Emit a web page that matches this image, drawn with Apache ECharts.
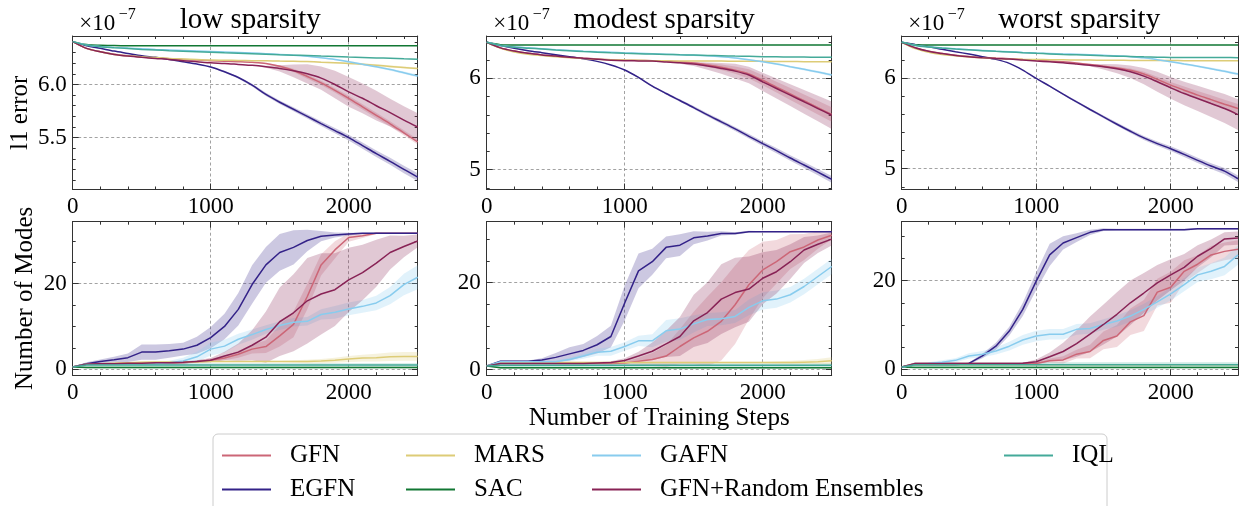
<!DOCTYPE html>
<html><head><meta charset="utf-8">
<script src="https://cdn.jsdelivr.net/npm/echarts@6/dist/echarts.min.js"></script>
<style>html,body{margin:0;padding:0;background:#fff}#c{width:1241px;height:506px}</style>
</head><body><div id="c"></div>
<script>
// ---------------- DATA ----------------
const steps = [0,100,200,300,400,500,600,700,800,900,1000,1100,1200,1300,1400,1500,1600,1700,1800,1900,2000,2100,2200,2300,2400,2500];
const methods = ['GFN','EGFN','MARS','SAC','GAFN','GFN+Random Ensembles','IQL'];
const panelTitles = ['low sparsity','modest sparsity','worst sparsity'];
const xTickLabels = [0,1000,2000];

// l1 error (x1e-7), low sparsity
const low_l1_GFN   = [6.403,6.340,6.308,6.285,6.270,6.260,6.250,6.242,6.236,6.230,6.224,6.219,6.214,6.208,6.198,6.172,6.132,6.075,6.015,5.945,5.870,5.790,5.710,5.630,5.545,5.460];
const low_l1_GFN_sd= [0,0,0,0,0,0,0,0,0,0,0,0,0,0,0.005,0.01,0.015,0.02,0.02,0.02,0.025,0.025,0.025,0.025,0.025,0.025];
const low_l1_EGFN  = [6.403,6.365,6.340,6.314,6.292,6.270,6.255,6.236,6.214,6.192,6.165,6.120,6.066,5.994,5.906,5.833,5.767,5.700,5.632,5.566,5.500,5.425,5.349,5.277,5.201,5.129];
const low_l1_EGFN_sd=[0,0,0,0,0,0,0,0,0,0,0.005,0.008,0.01,0.012,0.015,0.017,0.019,0.021,0.023,0.025,0.027,0.029,0.031,0.033,0.035,0.037];
const low_l1_MARS  = [6.403,6.340,6.308,6.283,6.270,6.261,6.253,6.245,6.240,6.235,6.230,6.228,6.226,6.224,6.222,6.220,6.218,6.215,6.210,6.205,6.198,6.190,6.180,6.170,6.160,6.150];
const low_l1_MARS_sd=[0,0,0,0,0,0,0,0,0,0,0,0,0,0,0,0.003,0.004,0.005,0.006,0.007,0.008,0.009,0.01,0.01,0.01,0.01];
const low_l1_SAC   = [6.403,6.375,6.368,6.366,6.365,6.365,6.365,6.365,6.365,6.365,6.365,6.365,6.365,6.365,6.365,6.365,6.365,6.365,6.365,6.365,6.365,6.365,6.365,6.365,6.365,6.365];
const low_l1_GAFN  = [6.403,6.372,6.358,6.349,6.342,6.336,6.330,6.325,6.320,6.315,6.310,6.305,6.300,6.295,6.290,6.283,6.275,6.265,6.252,6.236,6.214,6.190,6.167,6.140,6.110,6.080];
const low_l1_GAFN_sd=[0,0,0,0,0,0,0,0,0,0,0,0,0,0,0,0.003,0.004,0.005,0.006,0.007,0.008,0.009,0.01,0.011,0.012,0.013];
const low_l1_GFNRE = [6.403,6.340,6.308,6.283,6.267,6.255,6.245,6.236,6.223,6.214,6.204,6.198,6.189,6.180,6.167,6.151,6.129,6.100,6.060,6.000,5.930,5.870,5.800,5.735,5.665,5.600];
const low_l1_GFNRE_sd=[0,0,0,0,0,0,0,0,0,0,0,0,0,0,0.01,0.03,0.06,0.09,0.11,0.13,0.14,0.14,0.14,0.13,0.13,0.13];
const low_l1_IQL   = [6.403,6.371,6.355,6.346,6.338,6.330,6.324,6.318,6.313,6.308,6.303,6.298,6.294,6.290,6.285,6.280,6.276,6.272,6.267,6.263,6.258,6.254,6.250,6.246,6.241,6.237];

// l1 error, modest sparsity
const mod_l1_GFN   = [6.396,6.335,6.300,6.275,6.258,6.245,6.232,6.222,6.213,6.205,6.200,6.197,6.195,6.190,6.182,6.168,6.148,6.122,6.090,6.050,5.980,5.905,5.830,5.755,5.680,5.605];
const mod_l1_GFN_sd= [0,0,0,0,0,0,0,0,0,0,0,0,0,0,0.005,0.01,0.02,0.03,0.04,0.05,0.055,0.06,0.065,0.07,0.075,0.08];
const mod_l1_EGFN  = [6.396,6.360,6.330,6.304,6.282,6.260,6.238,6.216,6.187,6.147,6.092,6.011,5.916,5.835,5.758,5.681,5.600,5.524,5.447,5.366,5.286,5.209,5.128,5.051,4.974,4.894];
const mod_l1_EGFN_sd=[0,0,0,0,0,0,0,0,0,0,0.006,0.008,0.01,0.012,0.014,0.016,0.018,0.02,0.022,0.024,0.026,0.028,0.03,0.032,0.034,0.036];
const mod_l1_MARS  = [6.396,6.330,6.290,6.264,6.250,6.238,6.228,6.218,6.210,6.205,6.201,6.198,6.195,6.193,6.191,6.190,6.190,6.190,6.189,6.188,6.187,6.186,6.185,6.184,6.183,6.183];
const mod_l1_MARS_sd=[0,0,0,0,0,0,0,0,0,0,0.003,0.003,0.003,0.003,0.003,0.003,0.003,0.003,0.003,0.003,0.003,0.003,0.003,0.003,0.003,0.003];
const mod_l1_SAC   = [6.396,6.370,6.366,6.366,6.366,6.366,6.366,6.366,6.366,6.366,6.366,6.366,6.366,6.366,6.366,6.366,6.366,6.366,6.366,6.366,6.366,6.366,6.366,6.366,6.366,6.366];
const mod_l1_GAFN  = [6.396,6.362,6.346,6.335,6.325,6.315,6.307,6.299,6.292,6.286,6.280,6.275,6.270,6.265,6.260,6.255,6.248,6.238,6.224,6.205,6.183,6.158,6.128,6.100,6.070,6.037];
const mod_l1_GAFN_sd=[0,0,0,0,0,0,0,0,0,0,0,0,0,0,0,0.004,0.005,0.006,0.007,0.008,0.009,0.01,0.011,0.012,0.013,0.014];
const mod_l1_GFNRE = [6.396,6.335,6.300,6.275,6.258,6.245,6.232,6.220,6.210,6.200,6.194,6.192,6.190,6.181,6.172,6.157,6.135,6.110,6.080,6.037,5.963,5.890,5.817,5.744,5.670,5.597];
const mod_l1_GFNRE_sd=[0,0,0,0,0,0,0,0,0,0,0,0,0,0,0.01,0.02,0.04,0.06,0.08,0.09,0.10,0.11,0.12,0.13,0.14,0.15];
const mod_l1_IQL   = [6.396,6.360,6.343,6.332,6.322,6.311,6.303,6.295,6.288,6.281,6.275,6.271,6.267,6.263,6.259,6.256,6.252,6.249,6.245,6.242,6.238,6.237,6.235,6.234,6.232,6.231];

// l1 error, worst sparsity
const worst_l1_GFN   = [6.400,6.340,6.300,6.277,6.258,6.244,6.234,6.226,6.219,6.211,6.203,6.194,6.185,6.172,6.155,6.135,6.115,6.090,6.050,5.990,5.926,5.870,5.815,5.765,5.715,5.667];
const worst_l1_GFN_sd= [0,0,0,0,0,0,0,0,0,0,0,0,0,0,0.005,0.01,0.015,0.02,0.025,0.03,0.035,0.04,0.045,0.05,0.05,0.05];
const worst_l1_EGFN  = [6.400,6.375,6.352,6.323,6.296,6.270,6.241,6.211,6.167,6.093,6.000,5.915,5.826,5.740,5.656,5.574,5.493,5.415,5.341,5.278,5.222,5.159,5.093,5.030,4.974,4.889];
const worst_l1_EGFN_sd=[0,0,0,0,0,0,0,0,0,0,0.006,0.008,0.01,0.012,0.014,0.016,0.018,0.02,0.022,0.024,0.026,0.028,0.03,0.032,0.034,0.036];
const worst_l1_MARS  = [6.400,6.330,6.290,6.265,6.250,6.237,6.228,6.220,6.215,6.212,6.210,6.208,6.206,6.204,6.203,6.202,6.201,6.200,6.199,6.198,6.198,6.197,6.197,6.196,6.196,6.196];
const worst_l1_MARS_sd=[0,0,0,0,0,0,0,0,0,0,0.003,0.003,0.003,0.003,0.003,0.003,0.003,0.003,0.003,0.003,0.003,0.003,0.003,0.003,0.003,0.003];
const worst_l1_SAC   = [6.400,6.372,6.370,6.370,6.370,6.370,6.370,6.370,6.370,6.370,6.370,6.370,6.370,6.370,6.370,6.370,6.370,6.370,6.370,6.370,6.370,6.370,6.370,6.370,6.370,6.370];
const worst_l1_GAFN  = [6.400,6.367,6.350,6.338,6.328,6.319,6.310,6.302,6.295,6.288,6.282,6.277,6.272,6.267,6.262,6.256,6.250,6.240,6.228,6.208,6.185,6.160,6.135,6.108,6.080,6.048];
const worst_l1_GAFN_sd=[0,0,0,0,0,0,0,0,0,0,0,0,0,0,0,0.004,0.005,0.006,0.007,0.008,0.009,0.01,0.011,0.012,0.013,0.014];
const worst_l1_GFNRE = [6.400,6.340,6.300,6.275,6.255,6.240,6.230,6.222,6.215,6.204,6.193,6.184,6.174,6.160,6.145,6.130,6.107,6.074,6.026,5.963,5.896,5.833,5.778,5.722,5.667,5.600];
const worst_l1_GFNRE_sd=[0,0,0,0,0,0,0,0,0,0,0,0,0,0,0.01,0.03,0.05,0.07,0.09,0.11,0.12,0.13,0.14,0.15,0.16,0.17];
const worst_l1_IQL   = [6.400,6.365,6.348,6.336,6.326,6.317,6.308,6.300,6.293,6.285,6.278,6.272,6.266,6.261,6.256,6.251,6.247,6.243,6.239,6.236,6.233,6.232,6.232,6.231,6.231,6.230];

// Number of modes, low sparsity
const low_m_GFN    = [0.5,1.2,1.3,1.3,1.4,1.4,1.4,1.5,1.5,1.8,2.1,2.6,3.5,4.7,5.3,7.8,10.5,17.0,24.4,27.9,30.8,31.2,31.8,31.8,31.8,31.8];
const low_m_GFN_sd = [0,0.2,0.2,0.2,0.2,0.2,0.2,0.2,0.2,0.3,0.4,0.5,0.8,1.0,1.5,2.5,3.0,3.0,2.5,2.0,1.0,0.5,0.2,0,0,0];
const low_m_EGFN   = [0.5,1.3,1.8,2.2,2.7,4.0,4.0,4.3,4.7,5.6,7.4,10.0,14.0,19.8,24.4,27.3,28.5,30.1,31.1,31.4,31.6,31.8,31.8,31.8,31.8,31.8];
const low_m_EGFN_sd= [0,0.3,0.5,0.7,1.0,1.8,1.8,1.6,1.5,2.0,2.5,3.0,3.8,4.5,4.2,4.3,4.0,2.5,1.2,0.6,0.3,0.1,0.1,0.1,0.1,0.1];
const low_m_MARS   = [0.5,1.2,1.3,1.4,1.5,1.6,1.7,1.7,1.7,1.7,1.8,1.8,1.8,1.8,1.8,1.8,1.8,1.8,1.9,2.1,2.4,2.6,2.7,2.9,3.0,3.0];
const low_m_MARS_sd= [0,0.1,0.1,0.1,0.1,0.2,0.2,0.2,0.2,0.2,0.2,0.2,0.2,0.2,0.2,0.2,0.3,0.4,0.5,0.6,0.7,0.8,0.9,1.0,1.0,1.0];
const low_m_SAC    = [0.5,0.4,0.4,0.4,0.4,0.4,0.4,0.4,0.4,0.4,0.4,0.4,0.4,0.4,0.4,0.4,0.4,0.4,0.4,0.4,0.4,0.4,0.4,0.4,0.4,0.4];
const low_m_SAC_sd = [0,0.15,0.15,0.15,0.15,0.15,0.15,0.15,0.15,0.15,0.15,0.15,0.15,0.15,0.15,0.15,0.15,0.15,0.15,0.15,0.15,0.15,0.15,0.15,0.15,0.15];
const low_m_GAFN   = [0.5,1.2,1.2,1.2,1.2,1.2,1.3,1.5,1.9,2.9,4.7,5.4,7.0,8.1,9.3,10.2,11.0,11.2,12.8,13.3,14.1,14.7,15.5,17.2,19.8,21.5];
const low_m_GAFN_sd= [0,0.1,0.1,0.1,0.2,0.2,0.3,0.5,0.8,1.2,1.5,1.5,1.3,1.2,1.0,1.0,1.0,1.0,1.2,1.5,1.5,1.5,1.7,2.0,2.5,2.8];
const low_m_GFNRE  = [0.5,1.2,1.3,1.3,1.4,1.4,1.5,1.5,1.6,1.8,2.1,3.1,4.0,5.6,7.5,11.1,13.2,16.0,17.6,18.6,20.9,22.6,24.8,27.3,28.7,30.0];
const low_m_GFNRE_sd=[0,0.1,0.1,0.1,0.1,0.1,0.2,0.2,0.2,0.3,0.5,1.0,2.0,3.5,6.0,8.0,9.0,10.0,9.5,8.5,7.5,6.5,5.5,4.0,2.5,1.5];
const low_m_IQL    = [0.5,1.0,1.0,1.0,1.0,1.0,1.0,1.0,1.0,1.0,1.0,1.0,1.0,1.0,1.0,1.0,1.0,1.0,1.0,1.0,1.0,1.0,1.0,1.0,1.0,1.0];
const low_m_IQL_sd = [0,0.4,0.4,0.4,0.4,0.4,0.4,0.4,0.4,0.4,0.4,0.4,0.4,0.4,0.4,0.4,0.4,0.4,0.4,0.4,0.4,0.4,0.4,0.4,0.4,0.4];

// Number of modes, modest sparsity
const mod_m_GFN    = [0.8,1.4,1.4,1.4,1.4,1.4,1.4,1.4,1.4,1.4,1.5,1.9,2.3,3.1,5.3,7.3,8.8,11.1,14.9,19.5,22.9,24.8,27.1,28.2,29.8,30.9];
const mod_m_GFN_sd = [0,0.1,0.1,0.1,0.1,0.1,0.1,0.1,0.1,0.2,0.3,0.8,1.5,2.5,4.0,6.0,8.0,9.0,9.0,8.0,6.5,5.0,4.0,3.0,2.0,1.0];
const mod_m_EGFN   = [0.8,1.9,1.9,1.9,2.2,2.8,3.6,4.4,5.7,7.6,15.3,22.7,24.8,28.1,28.6,30.3,30.7,31.3,31.3,31.7,31.7,31.7,31.7,31.7,31.7,31.7];
const mod_m_EGFN_sd= [0,0.2,0.2,0.2,0.4,1.0,1.5,1.5,2.0,2.5,4.0,4.0,3.0,2.5,2.5,1.5,1.0,0.5,0.3,0.2,0.1,0.1,0.1,0.1,0.1,0.1];
const mod_m_MARS   = [0.8,1.6,1.6,1.6,1.6,1.6,1.6,1.6,1.6,1.6,1.6,1.6,1.6,1.6,1.6,1.6,1.6,1.6,1.6,1.6,1.6,1.6,1.6,1.7,1.8,2.0];
const mod_m_MARS_sd= [0,0.2,0.2,0.2,0.2,0.2,0.2,0.2,0.2,0.2,0.2,0.2,0.2,0.2,0.2,0.2,0.2,0.2,0.2,0.2,0.2,0.3,0.4,0.5,0.6,0.8];
const mod_m_SAC    = [0.8,0.4,0.4,0.4,0.4,0.4,0.4,0.4,0.4,0.4,0.4,0.4,0.4,0.4,0.4,0.4,0.4,0.4,0.4,0.4,0.4,0.4,0.4,0.4,0.4,0.4];
const mod_m_SAC_sd = [0,0.15,0.15,0.15,0.15,0.15,0.15,0.15,0.15,0.15,0.15,0.15,0.15,0.15,0.15,0.15,0.15,0.15,0.15,0.15,0.15,0.15,0.15,0.15,0.15,0.15];
const mod_m_GAFN   = [0.8,1.8,1.8,1.8,1.8,1.8,2.3,3.1,4.0,4.2,5.3,6.6,6.6,8.9,9.3,10.5,11.5,11.7,12.2,14.3,15.8,16.2,17.2,19.1,21.4,23.7];
const mod_m_GAFN_sd= [0,0.1,0.1,0.2,0.2,0.3,0.4,0.6,0.8,1.0,1.0,1.2,1.5,2.5,2.5,2.0,1.5,1.5,1.5,1.8,2.0,2.0,1.8,1.8,1.8,1.8];
const mod_m_GFNRE  = [0.8,1.4,1.4,1.4,1.4,1.4,1.4,1.4,1.5,1.6,2.1,3.1,4.2,5.9,7.6,11.2,13.1,16.2,17.7,18.5,21.0,22.5,24.8,27.5,28.8,30.0];
const mod_m_GFNRE_sd=[0,0.1,0.1,0.1,0.1,0.1,0.1,0.2,0.2,0.3,0.5,1.0,2.0,3.0,4.5,6.0,7.0,8.0,8.0,7.5,6.0,5.0,4.0,3.0,2.0,1.5];
const mod_m_IQL    = [0.8,1.0,1.0,1.0,1.0,1.0,1.0,1.0,1.0,1.0,1.0,1.0,1.0,1.0,1.0,1.0,1.0,1.0,1.0,1.0,1.0,1.0,1.0,1.0,1.0,1.0];
const mod_m_IQL_sd = [0,0.4,0.4,0.4,0.4,0.4,0.4,0.4,0.4,0.4,0.4,0.4,0.4,0.4,0.4,0.4,0.4,0.4,0.4,0.4,0.4,0.4,0.4,0.4,0.4,0.4];

// Number of modes, worst sparsity
const worst_m_GFN    = [0.5,1.3,1.3,1.3,1.3,1.3,1.3,1.3,1.3,1.3,1.3,1.9,2.1,3.4,4.0,6.5,7.5,10.7,12.1,17.4,18.5,22.1,23.7,25.8,26.6,27.1];
const worst_m_GFN_sd = [0,0,0,0,0,0,0,0,0,0,0.2,0.5,0.8,1.0,1.5,2.0,2.5,3.0,3.5,3.0,3.5,2.5,2.0,2.0,2.0,2.0];
const worst_m_EGFN   = [0.5,1.0,1.0,1.0,1.0,1.3,3.0,5.2,8.6,13.5,19.9,25.8,28.5,29.7,30.9,31.5,31.5,31.5,31.5,31.5,31.5,31.5,31.7,31.7,31.7,31.7];
const worst_m_EGFN_sd= [0,0,0,0,0,0.2,0.5,0.8,1.0,1.5,2.0,2.5,1.5,1.0,0.6,0.3,0.2,0.2,0.2,0.2,0.2,0.2,0.2,0.2,0.2,0.2];
const worst_m_MARS   = [0.5,1.0,1.0,1.0,1.0,1.0,1.0,1.0,1.0,1.0,1.0,1.0,1.0,1.0,1.0,1.0,1.0,1.0,1.0,1.0,1.0,1.0,1.0,1.0,1.0,1.0];
const worst_m_SAC    = [0.5,0.4,0.4,0.4,0.4,0.4,0.4,0.4,0.4,0.4,0.4,0.4,0.4,0.4,0.4,0.4,0.4,0.4,0.4,0.4,0.4,0.4,0.4,0.4,0.4,0.4];
const worst_m_SAC_sd = [0,0.15,0.15,0.15,0.15,0.15,0.15,0.15,0.15,0.15,0.15,0.15,0.15,0.15,0.15,0.15,0.15,0.15,0.15,0.15,0.15,0.15,0.15,0.15,0.15,0.15];
const worst_m_GAFN   = [0.4,1.1,1.3,1.6,2.0,3.0,3.4,4.1,5.2,6.6,7.5,7.9,7.9,9.0,9.2,10.1,10.9,12.0,13.5,15.2,17.0,19.1,21.3,22.1,23.2,25.8];
const worst_m_GAFN_sd= [0,0.2,0.3,0.4,0.5,0.6,0.7,0.8,1.0,1.1,1.2,1.2,1.2,1.2,1.2,1.2,1.3,1.3,1.3,1.3,1.5,1.5,1.6,1.8,2.0,2.2];
const worst_m_GFNRE  = [0.5,1.3,1.3,1.3,1.3,1.3,1.3,1.3,1.3,1.35,1.7,2.8,4.0,5.8,7.9,10.1,12.4,15.0,17.2,19.5,21.3,23.0,25.5,27.3,29.4,29.6];
const worst_m_GFNRE_sd=[0,0,0,0,0,0,0,0,0,0.1,0.5,1.0,2.0,3.0,4.0,4.5,5.0,5.0,4.5,4.0,3.5,3.0,2.5,2.0,1.5,1.5];
const worst_m_IQL    = [0.5,1.0,1.0,1.0,1.0,1.0,1.0,1.0,1.0,1.0,1.0,1.0,1.0,1.0,1.0,1.0,1.0,1.0,1.0,1.0,1.0,1.0,1.0,1.0,1.0,1.0];
const worst_m_IQL_sd = [0,0.55,0.55,0.55,0.55,0.55,0.55,0.55,0.55,0.55,0.55,0.55,0.55,0.55,0.55,0.55,0.55,0.55,0.55,0.55,0.55,0.55,0.55,0.55,0.55,0.55];

// ---------------- STYLE / LAYOUT ----------------
const COLORS = ['#CC6677','#332288','#DDCC77','#117733','#88CCEE','#882255','#44AA99'];
const FONT = "'Liberation Serif', 'Times New Roman', serif";
const FRAME = '#333';
const GRIDLINE = {color:'#8a8a8a', width:0.8, type:[3,2.5]};

const panels = [
  {row:0,col:0, lines:[low_l1_GFN,low_l1_EGFN,low_l1_MARS,low_l1_SAC,low_l1_GAFN,low_l1_GFNRE,low_l1_IQL],
   sds:[low_l1_GFN_sd,low_l1_EGFN_sd,low_l1_MARS_sd,null,low_l1_GAFN_sd,low_l1_GFNRE_sd,null],
   ymin:5.012, ymax:6.456, major:0.5, minor:0.1, dec:1, smooth:0.3, yName:'l1 error', yGap:40},
  {row:0,col:1, lines:[mod_l1_GFN,mod_l1_EGFN,mod_l1_MARS,mod_l1_SAC,mod_l1_GAFN,mod_l1_GFNRE,mod_l1_IQL],
   sds:[mod_l1_GFN_sd,mod_l1_EGFN_sd,mod_l1_MARS_sd,null,mod_l1_GAFN_sd,mod_l1_GFNRE_sd,null],
   ymin:4.783, ymax:6.465, major:1, minor:0.2, dec:0, smooth:0.3},
  {row:0,col:2, lines:[worst_l1_GFN,worst_l1_EGFN,worst_l1_MARS,worst_l1_SAC,worst_l1_GAFN,worst_l1_GFNRE,worst_l1_IQL],
   sds:[worst_l1_GFN_sd,worst_l1_EGFN_sd,worst_l1_MARS_sd,null,worst_l1_GAFN_sd,worst_l1_GFNRE_sd,null],
   ymin:4.77, ymax:6.47, major:1, minor:0.2, dec:0, smooth:0.3},
  {row:1,col:0, lines:[low_m_GFN,low_m_EGFN,low_m_MARS,low_m_SAC,low_m_GAFN,low_m_GFNRE,low_m_IQL],
   sds:[low_m_GFN_sd,low_m_EGFN_sd,low_m_MARS_sd,low_m_SAC_sd,low_m_GAFN_sd,low_m_GFNRE_sd,low_m_IQL_sd],
   ymin:-1.4, ymax:34.5, major:20, minor:5, dec:0, smooth:false, yName:'Number of Modes', yGap:35},
  {row:1,col:1, lines:[mod_m_GFN,mod_m_EGFN,mod_m_MARS,mod_m_SAC,mod_m_GAFN,mod_m_GFNRE,mod_m_IQL],
   sds:[mod_m_GFN_sd,mod_m_EGFN_sd,mod_m_MARS_sd,mod_m_SAC_sd,mod_m_GAFN_sd,mod_m_GFNRE_sd,mod_m_IQL_sd],
   ymin:-1.3, ymax:34.0, major:20, minor:5, dec:0, smooth:false, xName:'Number of Training Steps'},
  {row:1,col:2, lines:[worst_m_GFN,worst_m_EGFN,worst_m_MARS,worst_m_SAC,worst_m_GAFN,worst_m_GFNRE,worst_m_IQL],
   sds:[worst_m_GFN_sd,worst_m_EGFN_sd,null,worst_m_SAC_sd,worst_m_GAFN_sd,worst_m_GFNRE_sd,worst_m_IQL_sd],
   ymin:-1.35, ymax:33.3, major:20, minor:5, dec:0, smooth:false}
];

const GL = [72.7, 486.7, 901.7], GW = 345;
const GT = [36, 221.7], GH = 153.5;

function isMult(v, step){ const r = v/step; return Math.abs(r-Math.round(r)) < 1e-6; }
function hexA(hex, a){ const n=parseInt(hex.slice(1),16); return 'rgba('+((n>>16)&255)+','+((n>>8)&255)+','+(n&255)+','+a+')'; }

// band (mean +/- sd) drawn as one polygon through the series' own coordinate system
function bandSeries(ax, vals, sd, color){
  const lo = vals.map((v,i)=>v-sd[i]), hi = vals.map((v,i)=>v+sd[i]);
  return {type:'custom', xAxisIndex:ax, yAxisIndex:ax, silent:true, z:1, animation:false,
    data: steps.map((s,i)=>[s, lo[i], hi[i]]),
    encode:{x:0, y:[1,2]},
    renderItem:(params, api)=>{
      if (params.dataIndex !== 0) return null;
      const pts = [];
      for (let i=0;i<steps.length;i++) pts.push(api.coord([steps[i], hi[i]]));
      for (let i=steps.length-1;i>=0;i--) pts.push(api.coord([steps[i], lo[i]]));
      return {type:'polygon', shape:{points:pts}, style:{fill:hexA(color,0.25), stroke:null}};
    }};
}

const grids = [], xAxes = [], yAxes = [], series = [];
panels.forEach((p, gi) => {
  grids.push({left:GL[p.col], top:GT[p.row], width:GW, height:GH, containLabel:false});
  const xc = {gridIndex:gi, type:'value', min:0, max:2500, splitNumber:5};
  const lbl = {color:'#000', fontFamily:FONT, fontSize:23};
  xAxes.push(Object.assign({}, xc, {position:'bottom', minInterval:1000, maxInterval:1000,
    axisLine:{show:true,onZero:false,lineStyle:{color:FRAME,width:1}},
    axisTick:{show:true,inside:true,length:6,lineStyle:{color:FRAME,width:1}},
    axisLabel:Object.assign({show:true,margin:6,formatter:v=> (xTickLabels.indexOf(v)>=0 ? String(v) : '')}, lbl),
    splitLine:{show:true,lineStyle:GRIDLINE},
    name: p.xName || '', nameLocation:'middle', nameGap:31,
    nameTextStyle:{color:'#000', fontFamily:FONT, fontSize:25}}));
  xAxes.push(Object.assign({}, xc, {position:'bottom', minInterval:200, maxInterval:200,
    axisLine:{show:false,onZero:false}, axisTick:{show:true,inside:true,length:3,lineStyle:{color:FRAME,width:1}},
    axisLabel:{show:false}, splitLine:{show:false}}));
  xAxes.push(Object.assign({}, xc, {position:'top', minInterval:1000, maxInterval:1000,
    axisLine:{show:true,onZero:false,lineStyle:{color:FRAME,width:1}},
    axisTick:{show:true,inside:true,length:6,lineStyle:{color:FRAME,width:1}},
    axisLabel:{show:false}, splitLine:{show:false}}));
  xAxes.push(Object.assign({}, xc, {position:'top', minInterval:200, maxInterval:200,
    axisLine:{show:false,onZero:false}, axisTick:{show:true,inside:true,length:3,lineStyle:{color:FRAME,width:1}},
    axisLabel:{show:false}, splitLine:{show:false}}));

  const yc = {gridIndex:gi, type:'value', min:p.ymin, max:p.ymax, splitNumber:5};
  yAxes.push(Object.assign({}, yc, {position:'left', minInterval:p.major, maxInterval:p.major,
    axisLine:{show:true,onZero:false,lineStyle:{color:FRAME,width:1}},
    axisTick:{show:true,inside:true,length:6,lineStyle:{color:FRAME,width:1}},
    axisLabel:Object.assign({show:true,margin:6,formatter:v=> (isMult(v,p.major) ? v.toFixed(p.dec) : '')}, lbl),
    splitLine:{show:true,lineStyle:GRIDLINE},
    name: p.yName || '', nameLocation:'middle', nameGap:p.yGap || 40, nameRotate:90,
    nameTextStyle:{color:'#000', fontFamily:FONT, fontSize:25}}));
  yAxes.push(Object.assign({}, yc, {position:'left', minInterval:p.minor, maxInterval:p.minor,
    axisLine:{show:false,onZero:false}, axisTick:{show:true,inside:true,length:3,lineStyle:{color:FRAME,width:1}},
    axisLabel:{show:false}, splitLine:{show:false}}));
  yAxes.push(Object.assign({}, yc, {position:'right', minInterval:p.major, maxInterval:p.major,
    axisLine:{show:true,onZero:false,lineStyle:{color:FRAME,width:1}},
    axisTick:{show:true,inside:true,length:6,lineStyle:{color:FRAME,width:1}},
    axisLabel:{show:false}, splitLine:{show:false}}));
  yAxes.push(Object.assign({}, yc, {position:'right', minInterval:p.minor, maxInterval:p.minor,
    axisLine:{show:false,onZero:false}, axisTick:{show:true,inside:true,length:3,lineStyle:{color:FRAME,width:1}},
    axisLabel:{show:false}, splitLine:{show:false}}));

  const ax = gi*4;
  methods.forEach((m, mi) => {
    if (p.sds[mi]) series.push(bandSeries(ax, p.lines[mi], p.sds[mi], COLORS[mi]));
  });
  methods.forEach((m, mi) => {
    const vals = p.lines[mi];
    series.push({type:'line', name:m, xAxisIndex:ax, yAxisIndex:ax,
      data:steps.map((s,i)=>[s, vals[i]]), symbol:'none', showSymbol:false, smooth:p.smooth,
      lineStyle:{color:COLORS[mi], width:1.5}, itemStyle:{color:COLORS[mi]}, z:2, animation:false});
  });
});

const titles = [];
panelTitles.forEach((t, c) => {
  titles.push({text:t, left:GL[c]+GW/2, textAlign:'center', top:1,
    textStyle:{fontFamily:FONT, fontSize:29, fontWeight:'normal', color:'#000'}});
  titles.push({text:'×10', left:GL[c]+1.5, top:7,
    textStyle:{fontFamily:FONT, fontSize:23, fontWeight:'normal', color:'#000'}});
  titles.push({text:'−7', left:GL[c]+41, top:2,
    textStyle:{fontFamily:FONT, fontSize:16, fontWeight:'normal', color:'#000'}});
});

const legendBase = {orient:'vertical', top:443, padding:0, itemWidth:49, itemHeight:2, itemGap:9, icon:'rect',
  selectedMode:false, textStyle:{fontFamily:FONT, fontSize:25, color:'#000', lineHeight:25, padding:[0,0,0,14]}};
const legends = [
  Object.assign({}, legendBase, {left:222, data:['GFN','EGFN']}),
  Object.assign({}, legendBase, {left:406, data:['MARS','SAC']}),
  Object.assign({}, legendBase, {left:592, data:['GAFN','GFN+Random Ensembles']}),
  Object.assign({}, legendBase, {left:1004, data:['IQL']})
];

const chart = echarts.init(document.getElementById('c'), null, {renderer:'canvas'});
chart.setOption({
  animation:false,
  backgroundColor:'#fff',
  title:titles,
  legend:legends,
  grid:grids,
  xAxis:xAxes,
  yAxis:yAxes,
  series:series,
  graphic:[{type:'rect', z:-1, silent:true, shape:{x:213, y:434, width:894, height:90, r:5},
    style:{fill:'none', stroke:'#cccccc', lineWidth:1}}]
});
</script>
</body></html>
